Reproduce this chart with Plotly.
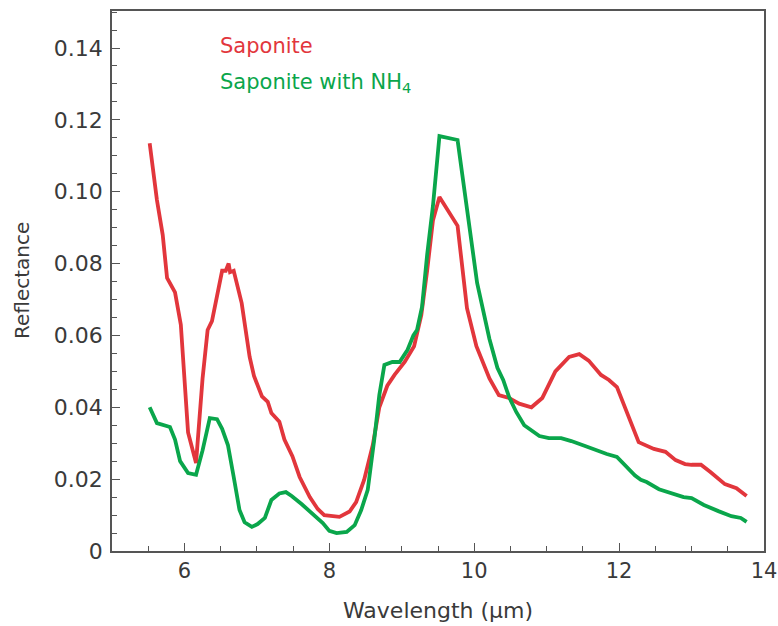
import plotly.graph_objects as go

# Saponite (red)
sap_x = [5.52, 5.62, 5.70, 5.76, 5.87, 5.95, 6.05, 6.16, 6.25, 6.32, 6.38, 6.46, 6.52, 6.57, 6.61,
         6.63, 6.68, 6.79, 6.90, 6.96, 7.07, 7.15, 7.20, 7.31, 7.38, 7.49, 7.59, 7.73, 7.84, 7.93,
         8.03, 8.14, 8.28, 8.37, 8.48, 8.60, 8.69, 8.80, 8.90, 9.04, 9.17, 9.27, 9.35, 9.43, 9.52,
         9.77, 9.90, 10.03, 10.21, 10.34, 10.48, 10.62, 10.79, 10.94, 11.12, 11.31, 11.45, 11.58,
         11.75, 11.86, 11.97, 12.27, 12.48, 12.64, 12.78, 12.91, 13.00, 13.13, 13.26, 13.46, 13.62, 13.76]
sap_y = [0.1135, 0.0977, 0.088, 0.076, 0.072, 0.063, 0.033, 0.0245, 0.048, 0.0615, 0.064, 0.0726, 0.078, 0.078, 0.080,
         0.0776, 0.078, 0.069, 0.054, 0.0487, 0.043, 0.0415, 0.0384, 0.036, 0.031, 0.0264, 0.0206, 0.015, 0.0117, 0.010,
         0.0097, 0.0095, 0.011, 0.0136, 0.0198, 0.0295, 0.040, 0.046, 0.049, 0.0526, 0.057, 0.0657, 0.078, 0.092, 0.0985,
         0.0905, 0.0676, 0.057, 0.048, 0.0434, 0.0426, 0.041, 0.040, 0.0426, 0.050, 0.054, 0.0548, 0.053,
         0.049, 0.0476, 0.0456, 0.0303, 0.0284, 0.0276, 0.0253, 0.0242, 0.024, 0.024, 0.022, 0.0186, 0.0175, 0.0153]

# Saponite with NH4 (green)
nh4_x = [5.52, 5.62, 5.80, 5.87, 5.94, 6.05, 6.16, 6.25, 6.35, 6.45, 6.52, 6.60, 6.68, 6.76, 6.83, 6.93,
         7.01, 7.11, 7.20, 7.31, 7.40, 7.48, 7.62, 7.80, 7.91, 8.00, 8.10, 8.24, 8.35, 8.44, 8.53, 8.62,
         8.69, 8.76, 8.87, 8.97, 9.08, 9.16, 9.21, 9.28, 9.35, 9.43, 9.52, 9.77, 9.86, 10.04, 10.21,
         10.32, 10.40, 10.48, 10.58, 10.69, 10.90, 11.03, 11.20, 11.34, 11.53, 11.67, 11.83, 11.97,
         12.08, 12.22, 12.30, 12.38, 12.55, 12.71, 12.89, 13.00, 13.17, 13.37, 13.55, 13.68, 13.76]
nh4_y = [0.040, 0.0356, 0.0345, 0.031, 0.025, 0.0217, 0.0212, 0.028, 0.037, 0.0367, 0.034, 0.0295, 0.0206, 0.0114, 0.008, 0.0067,
         0.0075, 0.0092, 0.0142, 0.016, 0.0164, 0.0153, 0.013, 0.0097, 0.0078, 0.0056, 0.005, 0.0053, 0.0072, 0.0114, 0.017, 0.031,
         0.0434, 0.0518, 0.0526, 0.0526, 0.056, 0.060, 0.0615, 0.068, 0.0824, 0.096, 0.1155, 0.1144, 0.1005, 0.0746, 0.059,
         0.051, 0.0476, 0.0429, 0.0387, 0.035, 0.032, 0.0314, 0.0314, 0.0306, 0.0292, 0.0281, 0.027, 0.0262,
         0.024, 0.021, 0.0198, 0.0192, 0.0172, 0.0161, 0.015, 0.0147, 0.0128, 0.0111, 0.0097, 0.0092, 0.0081]

x_ticks = [6, 8, 10, 12, 14]
y_ticks = [0, 0.02, 0.04, 0.06, 0.08, 0.10, 0.12, 0.14]
y_labels = ["0", "0.02", "0.04", "0.06", "0.08", "0.10", "0.12", "0.14"]

RED = "#e2363c"
GREEN = "#0aa64b"
FONT = "DejaVu Sans"
TXT = "#3a3a3a"

fig = go.Figure()
fig.add_trace(go.Scatter(x=sap_x, y=sap_y, mode="lines", name="Saponite",
                         line=dict(color=RED, width=3.8)))
fig.add_trace(go.Scatter(x=nh4_x, y=nh4_y, mode="lines", name="Saponite with NH4",
                         line=dict(color=GREEN, width=3.8)))

fig.add_annotation(x=0.162, y=0.936, xref="paper", yref="paper", xanchor="left", yanchor="middle",
                   text="Saponite", showarrow=False, font=dict(family=FONT, size=21, color=RED))
fig.add_annotation(x=0.162, y=0.866, xref="paper", yref="paper", xanchor="left", yanchor="middle",
                   text="Saponite with NH<sub>4</sub>", showarrow=False,
                   font=dict(family=FONT, size=21, color=GREEN))

# axis titles placed as annotations in paper coordinates
fig.add_annotation(x=0.5, y=-0.083, xref="paper", yref="paper", xanchor="center", yanchor="top",
                   text="Wavelength (μm)", showarrow=False, font=dict(family=FONT, size=22, color=TXT))
fig.add_annotation(x=-0.138, y=0.5, xref="paper", yref="paper", xanchor="center", yanchor="middle",
                   text="Reflectance", textangle=-90, showarrow=False,
                   font=dict(family=FONT, size=20, color=TXT))

axis_common = dict(showline=True, linecolor="#555555", linewidth=1.5, mirror=True,
                   ticks="inside", ticklen=8, tickwidth=1.2, tickcolor="#555555",
                   showgrid=False, zeroline=False, ticklabeloverflow="allow", automargin=False)

fig.update_xaxes(range=[5, 14], tickvals=x_ticks,
                 tickfont=dict(family=FONT, size=21, color=TXT),
                 minor=dict(ticks="inside", ticklen=5, tickwidth=1, tickcolor="#555555", dtick=0.5, tick0=5),
                 **axis_common)
fig.update_yaxes(range=[0, 0.1503], tickvals=y_ticks, ticktext=y_labels, ticklabelstandoff=3,
                 tickfont=dict(family=FONT, size=22, color=TXT),
                 minor=dict(ticks="inside", ticklen=5, tickwidth=1, tickcolor="#555555", dtick=0.005, tick0=0),
                 **axis_common)

fig.update_layout(width=778, height=626, margin=dict(l=112, r=14, t=11, b=75),
                  plot_bgcolor="white", paper_bgcolor="white", showlegend=False)

fig.write_html("out.html")
